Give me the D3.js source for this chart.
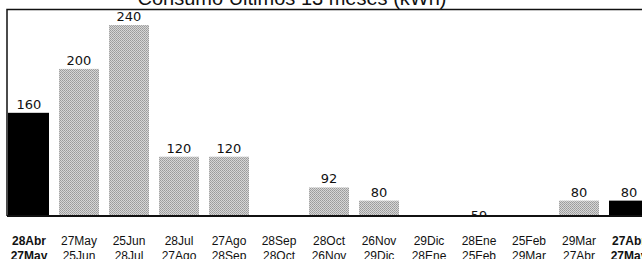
<!DOCTYPE html>
<html>
<head>
<meta charset="utf-8">
<script src="https://cdn.jsdelivr.net/npm/d3@7"></script>
<style>
  body { margin: 0; background: #fff; }
  svg { display: block; }
</style>
</head>
<body>
<script>
const width = 642;
const height = 259;

// periods (two-line labels) and consumption in kWh, null = no reading
const periodStart = ['28Abr', '27May', '25Jun', '28Jul', '27Ago', '28Sep', '28Oct', '26Nov', '29Dic', '28Ene', '25Feb', '29Mar', '27Abr'];
const periodEnd = ['27May', '25Jun', '28Jul', '27Ago', '28Sep', '28Oct', '26Nov', '29Dic', '28Ene', '25Feb', '29Mar', '27Abr', '27May'];
const consumo = [160, 200, 240, 120, 120, null, 92, 80, null, 59, null, 80, 80];
const highlighted = [true, false, false, false, false, false, false, false, false, false, false, false, true];

const title = 'Consumo Últimos 13 meses (kWh)';

const baseY = 216;
const left = 7;

const x = d3.scaleBand()
  .domain(d3.range(consumo.length))
  .range([4, 654])
  .paddingInner(0.2)
  .paddingOuter(0.1);

// the original scale does not start at zero
const y = d3.scaleLinear()
  .domain([66, 240])
  .range([baseY, 25]);

const svg = d3.select('body').append('svg')
  .attr('width', width)
  .attr('height', height);

const defs = svg.append('defs');

defs.append('clipPath')
  .attr('id', 'plot')
  .append('rect')
  .attr('x', 0)
  .attr('y', 0)
  .attr('width', width)
  .attr('height', baseY);

// dithered grey like the printed bars
const pat = defs.append('pattern')
  .attr('id', 'dither')
  .attr('width', 2)
  .attr('height', 2)
  .attr('patternUnits', 'userSpaceOnUse');
pat.append('rect').attr('width', 2).attr('height', 2).attr('fill', '#d6d6d6');
pat.append('rect').attr('width', 1).attr('height', 1).attr('fill', '#9a9a9a');
pat.append('rect').attr('x', 1).attr('y', 1).attr('width', 1).attr('height', 1).attr('fill', '#a6a6a6');

// frame
svg.append('path')
  .attr('d', `M${left},${baseY} V9.5 H${width}`)
  .attr('fill', 'none')
  .attr('stroke', '#111')
  .attr('stroke-width', 1.5);

svg.append('text')
  .attr('x', 292)
  .attr('y', 5)
  .attr('text-anchor', 'middle')
  .style('font-family', 'Liberation Sans, Arial, sans-serif')
  .style('font-size', '20px')
  .attr('fill', '#111')
  .text(title);

const plot = svg.append('g').attr('clip-path', 'url(#plot)');

const data = consumo.map((v, i) => ({ i, v, hi: highlighted[i] }));

plot.selectAll('rect.bar')
  .data(data.filter(d => d.v != null))
  .join('rect')
  .attr('class', 'bar')
  .attr('x', d => d.i === 0 ? left + 1 : x(d.i))
  .attr('width', d => d.i === 0 ? x(d.i) + x.bandwidth() - left - 1 : x.bandwidth())
  .attr('y', d => Math.min(y(d.v), baseY))
  .attr('height', d => Math.max(0, baseY - y(d.v)))
  .attr('fill', d => d.hi ? '#000' : 'url(#dither)');

plot.selectAll('text.val')
  .data(data.filter(d => d.v != null))
  .join('text')
  .attr('class', 'val')
  .attr('x', d => x(d.i) + x.bandwidth() / 2)
  .attr('y', d => y(d.v) - 4)
  .attr('text-anchor', 'middle')
  .style('font-family', 'DejaVu Sans, sans-serif')
  .style('font-size', '13px')
  .attr('fill', '#111')
  .text(d => d.v);

// baseline
svg.append('line')
  .attr('x1', left)
  .attr('x2', width)
  .attr('y1', baseY)
  .attr('y2', baseY)
  .attr('stroke', '#111')
  .attr('stroke-width', 2);

const labels = svg.append('g')
  .style('font-family', 'Liberation Sans, Arial, sans-serif')
  .style('font-size', '12px')
  .attr('fill', '#111')
  .attr('text-anchor', 'middle');

labels.selectAll('text.start')
  .data(periodStart)
  .join('text')
  .attr('class', 'start')
  .attr('x', (d, i) => x(i) + x.bandwidth() / 2)
  .attr('y', 245)
  .style('font-weight', (d, i) => highlighted[i] ? 'bold' : 'normal')
  .text(d => d);

labels.selectAll('text.end')
  .data(periodEnd)
  .join('text')
  .attr('class', 'end')
  .attr('x', (d, i) => x(i) + x.bandwidth() / 2)
  .attr('y', 260)
  .style('font-weight', (d, i) => highlighted[i] ? 'bold' : 'normal')
  .text(d => d);
</script>
</body>
</html>
